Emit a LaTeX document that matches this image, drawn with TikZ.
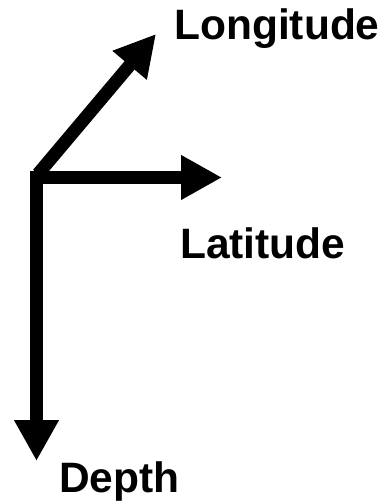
\documentclass[tikz,border=0pt]{standalone}
\usepackage{fontspec}
\setmainfont{Liberation Sans}
\usetikzlibrary{arrows.meta}
\begin{document}
\begin{tikzpicture}[x=1pt,y=-1pt,
  axis/.style={line width=13pt,-{Triangle[width=42pt,length=41pt]}},
  lbl/.style={anchor=base west,inner sep=0pt,font=\fontsize{42.5}{48}\selectfont\bfseries}]
\useasboundingbox (0,0) rectangle (387,502);
\coordinate (ov) at (36.5,171);
\coordinate (oh) at (30,177.5);
\coordinate (od) at (38,174);
\coordinate (depthtip) at (36.5,461);
\coordinate (lattip) at (222,177.5);
\coordinate (lontip) at (156,34);
\draw[axis] (ov) -- (depthtip);
\draw[axis] (oh) -- (lattip);
\draw[axis] (od) -- (lontip);
\node[lbl] (lon) at (174,40) {Longitude};
\node[lbl] (lat) at (180,258) {Latitude};
\node[lbl] (dep) at (59,492) {Depth};
\end{tikzpicture}
\end{document}
